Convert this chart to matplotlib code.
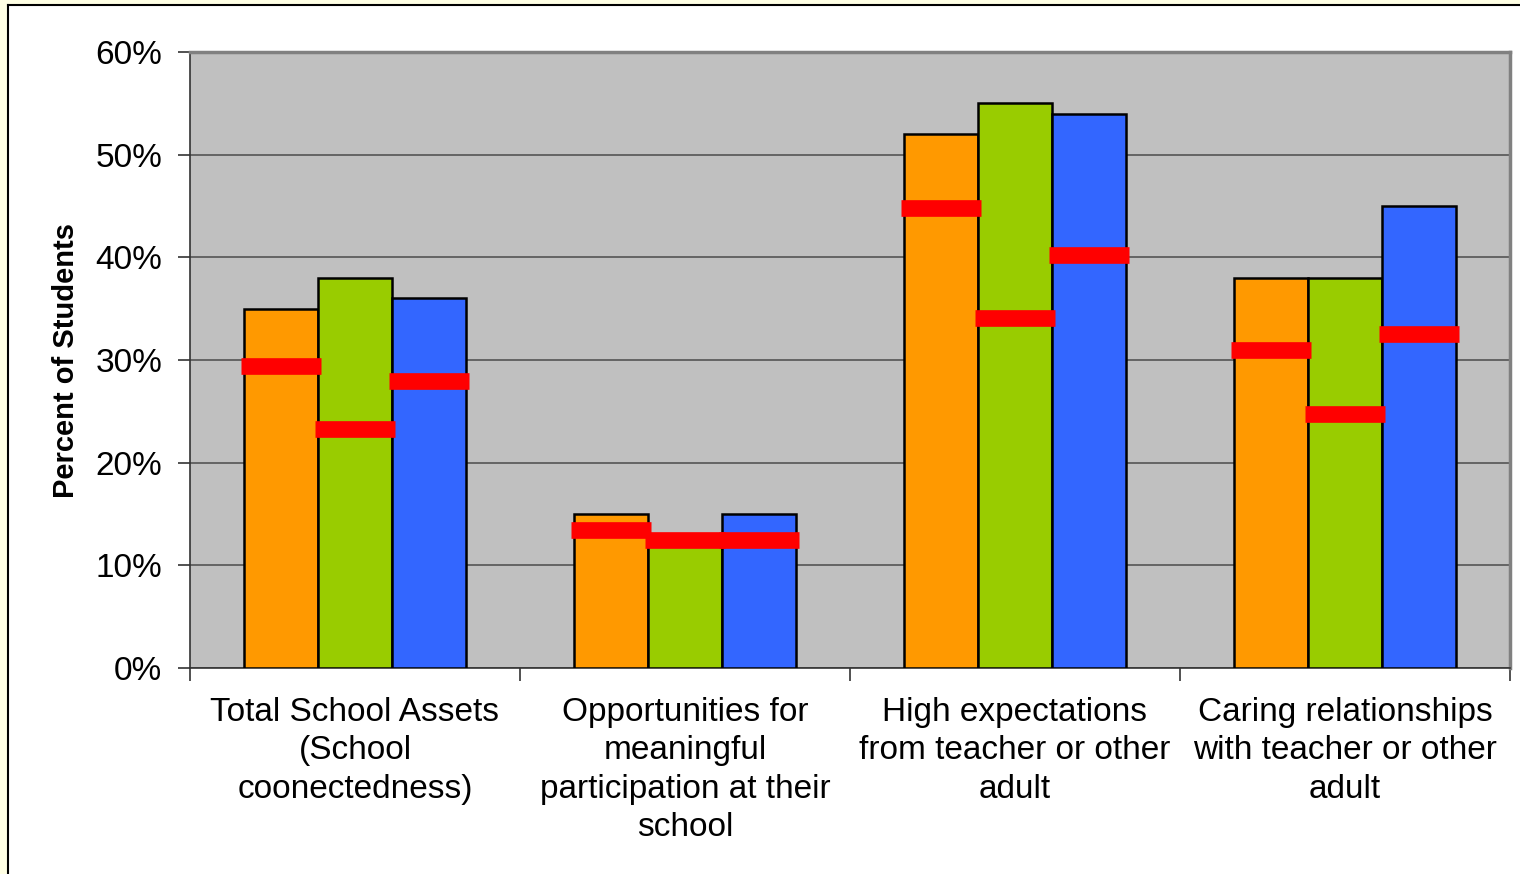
import matplotlib.pyplot as plt
import numpy as np
from matplotlib.lines import Line2D
from matplotlib.patches import Rectangle

plt.rcParams['font.family'] = ['Liberation Sans', 'DejaVu Sans']

categories = ["Total School Assets\n(School\ncoonectedness)",
              "Opportunities for\nmeaningful\nparticipation at their\nschool",
              "High expectations\nfrom teacher or other\nadult",
              "Caring relationships\nwith teacher or other\nadult"]

orange_vals = [35, 15, 52, 38]
green_vals = [38, 13, 55, 38]
blue_vals = [36, 15, 54, 45]

# red comparison markers
orange_ref = [29.4, 13.4, 44.8, 31.0]
green_ref = [23.3, 12.5, 34.1, 24.7]
blue_ref = [28.0, 12.5, 40.2, 32.5]

yticks = [0, 10, 20, 30, 40, 50, 60]

fig = plt.figure(figsize=(15.2, 8.74), dpi=100, facecolor='#FFFFE4')
fig.patches.append(Rectangle((8 / 1520, 0), 1, 1 - 5 / 874, transform=fig.transFigure,
                             facecolor='white', edgecolor='none', zorder=-10))
fig.lines.append(Line2D([8 / 1520, 8 / 1520], [0, 1 - 5 / 874], transform=fig.transFigure,
                        color='black', lw=1.5, zorder=-5))
fig.lines.append(Line2D([8 / 1520, 1], [1 - 5 / 874, 1 - 5 / 874], transform=fig.transFigure,
                        color='black', lw=1.5, zorder=-5))

ax = fig.add_axes([190 / 1520, 1 - 668 / 874, 1320 / 1520, 616 / 874])
ax.set_facecolor('#C0C0C0')

x = np.arange(len(categories)) + 0.5
w = 0.224
series = [(orange_vals, orange_ref, '#FF9900'),
          (green_vals, green_ref, '#99CC00'),
          (blue_vals, blue_ref, '#3366FF')]
for k, (vals, ref, col) in enumerate(series):
    pos = x + (k - 1) * w
    ax.bar(pos, vals, width=w, color=col, edgecolor='black', linewidth=1.8, zorder=3)
    ax.hlines(ref, pos - 0.122, pos + 0.122, color='#FF0000', linewidth=12, zorder=4)

ax.set_xlim(0, 4)
ax.set_ylim(0, 60)
ax.set_yticks(yticks)
ax.set_yticklabels([f"{t}%" for t in yticks], fontsize=24)
ax.yaxis.grid(True, color='#555555', linewidth=1.2, zorder=1)
ax.set_axisbelow(True)

ax.set_xticks(x)
ax.set_xticklabels(categories, fontsize=24, linespacing=1.3)
ax.tick_params(axis='x', length=0, pad=21)
ax.set_xticks([0, 1, 2, 3, 4], minor=True)
ax.tick_params(axis='x', which='minor', length=9, width=1.2, color='#333333')
ax.tick_params(axis='y', length=9, width=1.2, color='#333333', pad=11)

ax.set_ylabel("Percent of Students", fontsize=21, fontweight='bold', labelpad=11)

for side in ['top', 'right']:
    ax.spines[side].set_color('#808080')
    ax.spines[side].set_linewidth(2.5)
for side in ['left', 'bottom']:
    ax.spines[side].set_color('#333333')
    ax.spines[side].set_linewidth(1.2)

fig.savefig('out.png', dpi=100, facecolor=fig.get_facecolor())
